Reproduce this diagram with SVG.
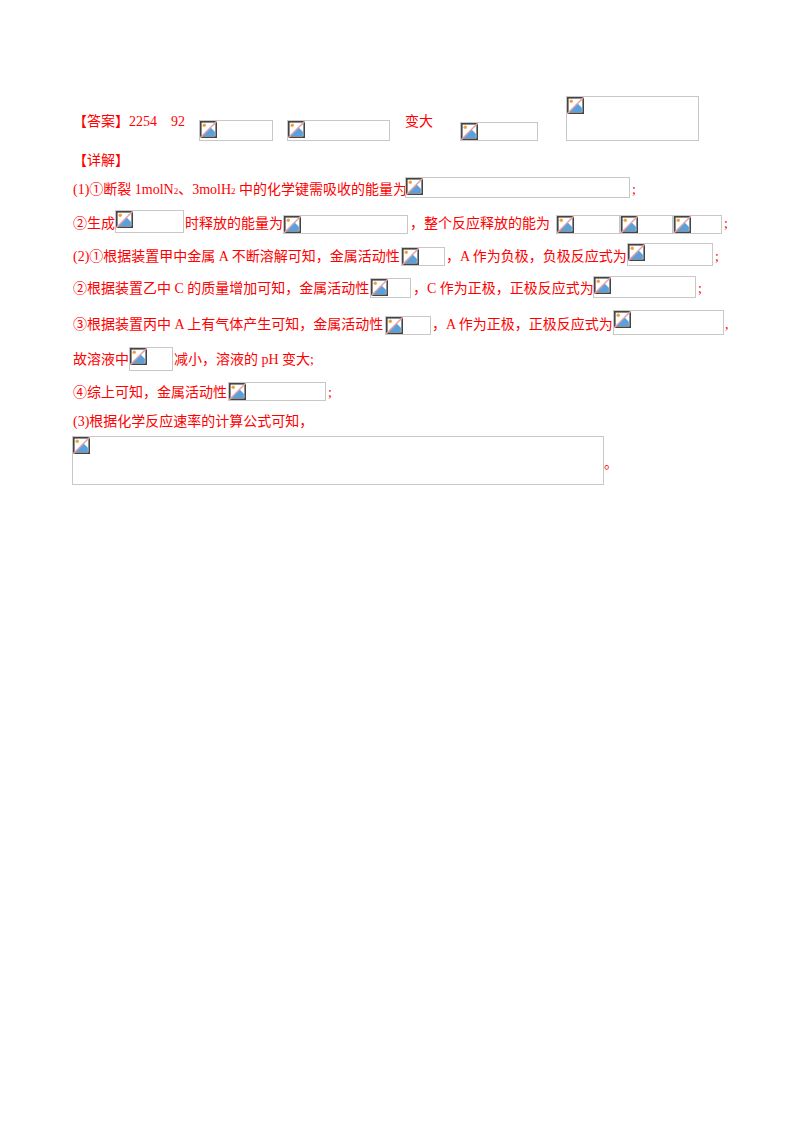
<svg xmlns="http://www.w3.org/2000/svg" width="800" height="1132" viewBox="0 0 800 1132">
<style>
text{font-family:"Liberation Serif","Noto Sans CJK SC",serif;font-size:14px;fill:#ff0000}
.b{fill:none;stroke:#c8c8c8;stroke-width:1}
</style>
<defs>
<symbol id="ic" viewBox="0 0 16 16" width="17" height="17">
<rect x="0.75" y="0.75" width="14.5" height="14.5" fill="#fff" stroke="#444" stroke-width="1.5"/>
<path d="M2 14 L10 6 L14 10 L14 14 Z" fill="#5aa0dc"/>
<circle cx="4" cy="4" r="1.6" fill="#f0a040"/>
<line x1="0" y1="16" x2="16" y2="0" stroke="#e0a0a0" stroke-width="1.3"/>
</symbol>
</defs>
<rect width="800" height="1132" fill="#fff"/>
<g id="answer">
<text x="73" y="126">【答案】2254</text>
<text x="171" y="126">92</text>
<rect class="b" x="199.5" y="120.5" width="73" height="20"/><use href="#ic" x="200" y="121"/>
<rect class="b" x="287.5" y="120.5" width="102" height="20"/><use href="#ic" x="288" y="121"/>
<text x="405" y="126">变大</text>
<rect class="b" x="460.5" y="122.5" width="77" height="18"/><use href="#ic" x="461" y="123"/>
<rect class="b" x="566.5" y="96.5" width="132" height="44"/><use href="#ic" x="567" y="97"/>
</g>
<g id="detail">
<text x="73" y="165">【详解】</text>
<text x="73" y="194">(1)①断裂 1molN<tspan font-size="9">2</tspan>、3molH<tspan font-size="9">2</tspan> 中的化学键需吸收的能量为</text>
<rect class="b" x="405.5" y="177.5" width="224" height="20"/><use href="#ic" x="406" y="178"/>
<text x="632" y="194">;</text>
<text x="73" y="228">②生成</text>
<rect class="b" x="115.5" y="210.5" width="68" height="22"/><use href="#ic" x="116" y="211"/>
<text x="185" y="228">时释放的能量为</text>
<rect class="b" x="283.5" y="215.5" width="124" height="18"/><use href="#ic" x="284" y="216"/>
<text x="410" y="228">，整个反应释放的能为</text>
<rect class="b" x="556.5" y="215.5" width="63" height="18"/><use href="#ic" x="557" y="216"/>
<rect class="b" x="620.5" y="215.5" width="52" height="18"/><use href="#ic" x="621" y="216"/>
<rect class="b" x="673.5" y="215.5" width="48" height="18"/><use href="#ic" x="674" y="216"/>
<text x="724" y="228">;</text>
<text x="73" y="261">(2)①根据装置甲中金属 A 不断溶解可知，金属活动性</text>
<rect class="b" x="401.5" y="247.5" width="43" height="18"/><use href="#ic" x="402" y="248"/>
<text x="446" y="261">，A 作为负极，负极反应式为</text>
<rect class="b" x="627.5" y="243.5" width="85" height="22"/><use href="#ic" x="628" y="244"/>
<text x="715" y="261">;</text>
<text x="73" y="293">②根据装置乙中 C 的质量增加可知，金属活动性</text>
<rect class="b" x="370.5" y="278.5" width="40" height="19"/><use href="#ic" x="371" y="279"/>
<text x="413" y="293">，C 作为正极，正极反应式为</text>
<rect class="b" x="593.5" y="276.5" width="102" height="21"/><use href="#ic" x="594" y="277"/>
<text x="698" y="293">;</text>
<text x="73" y="329">③根据装置丙中 A 上有气体产生可知，金属活动性</text>
<rect class="b" x="385.5" y="316.5" width="45" height="18"/><use href="#ic" x="386" y="317"/>
<text x="432" y="329">，A 作为正极，正极反应式为</text>
<rect class="b" x="613.5" y="310.5" width="110" height="24"/><use href="#ic" x="614" y="311"/>
<text x="725" y="329">,</text>
<text x="73" y="364">故溶液中</text>
<rect class="b" x="129.5" y="347.5" width="43" height="23"/><use href="#ic" x="130" y="348"/>
<text x="174" y="364">减小，溶液的 pH 变大;</text>
<text x="73" y="397">④综上可知，金属活动性</text>
<rect class="b" x="228.5" y="382.5" width="97" height="18"/><use href="#ic" x="229" y="383"/>
<text x="328" y="397">;</text>
<text x="73" y="426">(3)根据化学反应速率的计算公式可知，</text>
<rect class="b" x="72.5" y="436.5" width="531" height="48"/><use href="#ic" x="73" y="437"/>
<text x="604" y="468" font-size="5">。</text>
</g>
</svg>
